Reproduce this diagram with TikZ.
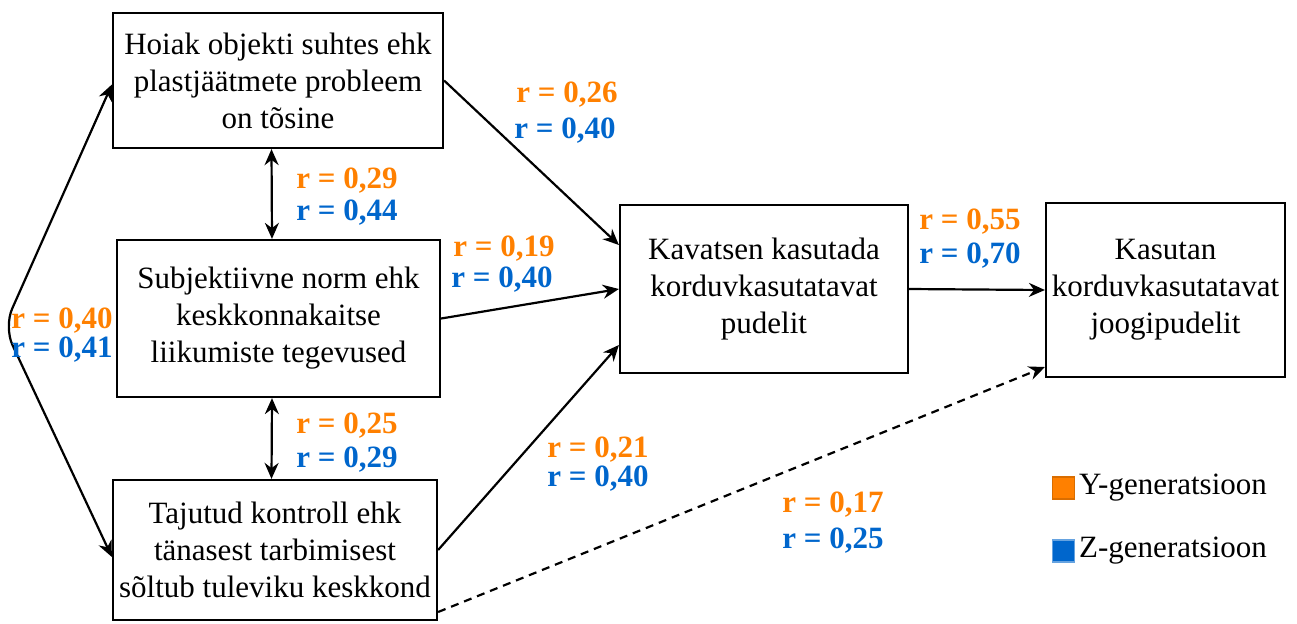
\documentclass[tikz,border=0pt]{standalone}
\usepackage{fontspec}
\setmainfont{Liberation Serif}
\usetikzlibrary{arrows.meta}

\definecolor{yorange}{RGB}{255,128,0}
\definecolor{zblue}{RGB}{0,102,204}

\begin{document}
\begin{tikzpicture}[x=0.5pt,y=-0.5pt,line width=1.1pt,
    every node/.style={font=\fontsize{15.5}{18.5}\selectfont},
    box/.style={draw,align=center,inner sep=0pt},
    ylab/.style={text=yorange,inner sep=0.5pt,font=\fontsize{15.5}{18.5}\selectfont\bfseries},
    zlab/.style={text=zblue,inner sep=0.5pt,font=\fontsize{15.5}{18.5}\selectfont\bfseries},
    link/.style={-{Stealth[length=8pt,width=7pt]}},
    both/.style={{Stealth[length=8pt,width=7pt]}-{Stealth[length=8pt,width=7pt]}}]

            \useasboundingbox (0,0) rectangle (1297,623);

            \path   (278,80.5)  node (a) [box,minimum width=165pt,minimum height=67.5pt]
                        {Hoiak objekti suhtes ehk\\plastjäätmete probleem\\on tõsine}
                    (278.5,318.5) node (b) [box,minimum width=161.5pt,minimum height=78.5pt]
                        {Subjektiivne norm ehk\\keskkonnakaitse\\liikumiste tegevused}
                    (275,550)   node (c) [box,minimum width=162pt,minimum height=70pt]
                        {Tajutud kontroll ehk\\tänasest tarbimisest\\sõltub tuleviku keskkond}
                    (764,289)   node (d) [box,minimum width=144pt,minimum height=84pt]
                        {Kavatsen kasutada\\korduvkasutatavat\\pudelit}
                    (1165.5,290) node (e) [box,minimum width=119.5pt,minimum height=87pt]
                        {Kasutan\\korduvkasutatavat\\joogipudelit};

            \coordinate (bend) at (4,327);

            \draw[link] (a.east) -- ([yshift=22pt]d.west);
            \draw[link] (b.east) -- (d.west);
            \draw[link] (c.east) -- ([yshift=-28pt]d.west);
            \draw[link] (d.east) -- (e.west);
            \draw[link,dash pattern=on 4pt off 3pt] ([yshift=-31pt]c.east) -- ([yshift=-38.5pt]e.west);
            \draw[both] ([xshift=-3.25pt]a.south) -- ([xshift=-3.25pt]b.north);
            \draw[both] ([xshift=-3.25pt]b.south) -- ([xshift=-1.75pt]c.north);
            \draw[both,rounded corners=10pt] ([yshift=-2pt]a.west) -- (bend) -- ([yshift=-3.5pt]c.west);

            % correlations
            \path   (567,95)  node [ylab] {r = 0,26}
                    (565,131) node [zlab] {r = 0,40}
                    (347,181) node [ylab] {r = 0,29}
                    (347,213) node [zlab] {r = 0,44}
                    (504,249) node [ylab] {r = 0,19}
                    (502,280) node [zlab] {r = 0,40}
                    (62,321)  node [ylab] {r = 0,40}
                    (62,350)  node [zlab] {r = 0,41}
                    (347,426) node [ylab] {r = 0,25}
                    (347,460) node [zlab] {r = 0,29}
                    (598,450) node [ylab] {r = 0,21}
                    (598,479) node [zlab] {r = 0,40}
                    (970,222) node [ylab] {r = 0,55}
                    (970,256) node [zlab] {r = 0,70}
                    (833,505) node [ylab] {r = 0,17}
                    (833,541) node [zlab] {r = 0,25};

            % legend
            \path   (1063.5,488) node (ysq) [draw=yorange!85!black,fill=yorange,line width=0.6pt,minimum size=11pt,inner sep=0pt] {}
                    (1063.5,551) node (zsq) [draw=zblue!60!white,fill=zblue,line width=0.6pt,minimum size=11pt,inner sep=0pt] {};
            \node (ytxt) at (ysq.east) [anchor=west,inner sep=1.5pt] {Y-generatsioon};
            \node (ztxt) at (zsq.east) [anchor=west,inner sep=1.5pt] {Z-generatsioon};
        \end{tikzpicture}
\end{document}
